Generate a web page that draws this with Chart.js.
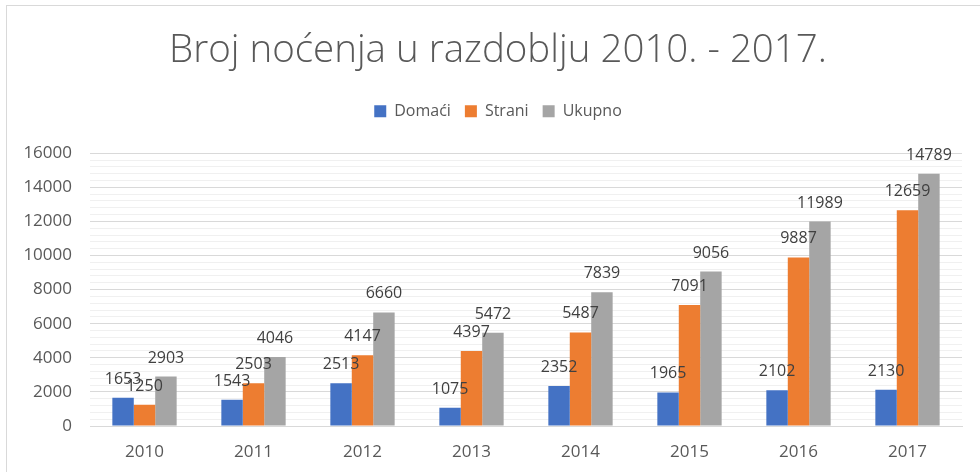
<!DOCTYPE html>
<html>
<head>
<meta charset="utf-8">
<script src="https://cdn.jsdelivr.net/npm/chart.js@4"></script>
<style>
  body { margin: 0; background: #fff; overflow: hidden; }
  #frame { position: absolute; left: 6px; top: 5px; width: 1000px; height: 500px; border: 1px solid #d9d9d9; }
  #wrap { position: absolute; left: 0; top: 0; width: 980px; height: 472px; }
</style>
</head>
<body>
<div id="frame"></div>
<div id="wrap"><canvas id="c"></canvas></div>
<script>
// podaci
const years = ['2010', '2011', '2012', '2013', '2014', '2015', '2016', '2017'];
const domaci = [1653, 1543, 2513, 1075, 2352, 1965, 2102, 2130];
const strani = [1250, 2503, 4147, 4397, 5487, 7091, 9887, 12659];
const ukupno = [2903, 4046, 6660, 5472, 7839, 9056, 11989, 14789];

const FONT = "'Open Sans', 'Noto Sans', sans-serif";

// oznake vrijednosti iznad stupaca
const valueLabels = {
  id: 'valueLabels',
  afterDatasetsDraw(chart) {
    const ctx = chart.ctx;
    ctx.save();
    ctx.font = '16px ' + FONT;
    ctx.fillStyle = '#404040';
    ctx.textAlign = 'center';
    ctx.textBaseline = 'alphabetic';
    chart.data.datasets.forEach((ds, i) => {
      chart.getDatasetMeta(i).data.forEach((bar, j) => {
        ctx.fillText(String(ds.data[j]), bar.x, bar.y - 14);
      });
    });
    ctx.restore();
  }
};

// razmak ispod legende
const legendGap = {
  id: 'legendGap',
  beforeInit(chart) {
    const fit = chart.legend.fit;
    chart.legend.fit = function () {
      fit.bind(chart.legend)();
      this.height += 24;
    };
  }
};

new Chart(document.getElementById('c'), {
  type: 'bar',
  data: {
    labels: years,
    datasets: [
      { label: 'Domaći', data: domaci, backgroundColor: '#4472c4' },
      { label: 'Strani', data: strani, backgroundColor: '#ed7d31' },
      { label: 'Ukupno', data: ukupno, backgroundColor: '#a5a5a5' }
    ]
  },
  options: {
    responsive: true,
    maintainAspectRatio: false,
    animation: false,
    layout: { padding: { left: 34, right: 18, top: 0, bottom: 0 } },
    datasets: { bar: { categoryPercentage: 0.59, barPercentage: 1 } },
    plugins: {
      tooltip: { enabled: false },
      title: {
        display: true,
        text: 'Broj noćenja u razdoblju 2010. - 2017.',
        color: '#595959',
        font: { family: FONT, size: 38.5, weight: '300' },
        padding: { top: 28, bottom: 15 }
      },
      legend: {
        position: 'top',
        labels: {
          color: '#595959',
          font: { family: FONT, size: 16 },
          boxWidth: 12,
          boxHeight: 12,
          padding: 14
        }
      }
    },
    scales: {
      x: {
        grid: { display: false },
        border: { color: '#d9d9d9' },
        ticks: { color: '#595959', font: { family: FONT, size: 17 }, padding: 8 },
        afterFit(scale) { scale.height = 46; }
      },
      y: {
        min: 0,
        max: 16000,
        border: { display: false },
        grid: {
          drawTicks: false,
          color: ctx => (ctx.tick && ctx.tick.value % 2000 === 0) ? '#d9d9d9' : '#f0f0f0'
        },
        ticks: {
          stepSize: 400,
          autoSkip: false,
          color: '#595959',
          font: { family: FONT, size: 17 },
          padding: 18,
          callback: v => (v % 2000 === 0 ? String(v) : '')
        },
        afterFit(scale) {
          scale.width = 56;
          // oznake smiju izaći lijevo iz okvira osi
          scale._computeLabelArea = () => null;
        }
      }
    }
  },
  plugins: [valueLabels, legendGap]
});
</script>
</body>
</html>
